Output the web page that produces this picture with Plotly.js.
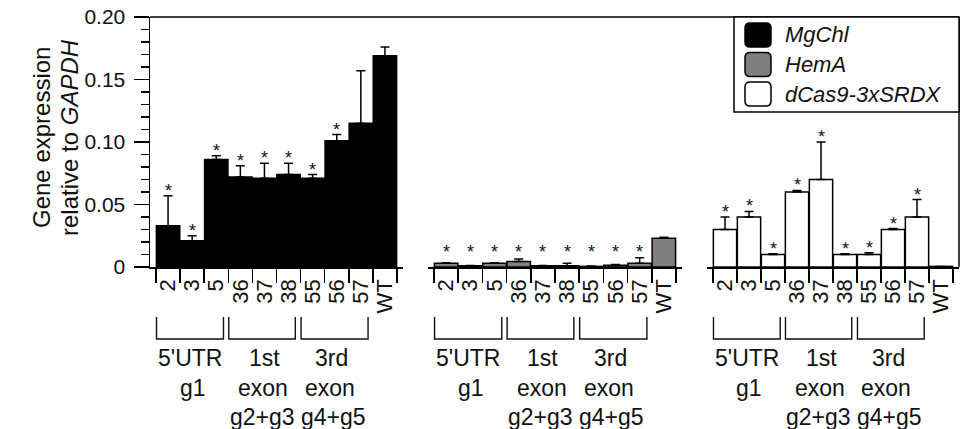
<!DOCTYPE html>
<html>
<head>
<meta charset="utf-8">
<script src="https://cdn.plot.ly/plotly-3.0.1.min.js"></script>
<style>
  html, body { margin: 0; padding: 0; background: #fff; }
  #chart { width: 961px; height: 429px; }
</style>
</head>
<body>
<div id="chart"></div>
<script>
// ---------------- data ----------------
const categories = ['2', '3', '5', '36', '37', '38', '55', '56', '57', 'WT'];

const mgchlValues = [0.033, 0.021, 0.086, 0.072, 0.071, 0.074, 0.071, 0.101, 0.115, 0.169];
const mgchlErrors = [0.024, 0.004, 0.003, 0.009, 0.012, 0.009, 0.003, 0.005, 0.042, 0.007];
const mgchlSignif = [1, 1, 1, 1, 1, 1, 1, 1, 0, 0];

const hemaValues = [0.003, 0.001, 0.003, 0.0045, 0.001, 0.001, 0.0005, 0.0015, 0.003, 0.023];
const hemaErrors = [0.0005, 0.0003, 0.0005, 0.002, 0.0003, 0.002, 0.0003, 0.0005, 0.0045, 0.0008];
const hemaSignif = [1, 1, 1, 1, 1, 1, 1, 1, 1, 0];

const srdxValues = [0.030, 0.040, 0.010, 0.060, 0.070, 0.010, 0.010, 0.030, 0.040, 0.0005];
const srdxErrors = [0.010, 0.0045, 0.0007, 0.0013, 0.030, 0.0007, 0.0015, 0.0008, 0.014, 0];
const srdxSignif = [1, 1, 1, 1, 1, 1, 1, 1, 1, 0];

const seriesNames = ['MgChl', 'HemA', 'dCas9-3xSRDX'];
const yTickVals = [0, 0.05, 0.10, 0.15, 0.20];
const yTickText = ['0', '0.05', '0.10', '0.15', '0.20'];
const yTitleLines = ['Gene expression', 'relative to <i>GAPDH</i>'];

const groupSpans = [[-0.48, 2.3], [2.52, 5.28], [5.52, 8.3]];
const groupLines = [['5\'UTR', 'g1'], ['1st', 'exon', 'g2+g3'], ['3rd', 'exon', 'g4+g5']];
const groupLineX = [[0.92, 1.02], [4.0, 3.95, 3.9], [6.8, 6.72, 6.85]];

// ---------------- layout helpers ----------------
const FONT = 'Liberation Sans, Arial, Helvetica, sans-serif';
const L = 150, T = 17, W = 809, H = 250;
const px = X => (X - L) / W;
const py = Y => (T + H - Y) / H;

const panels = [
  {vals: mgchlValues, errs: mgchlErrors, sig: mgchlSignif, color: '#000000', xa: 'x', dom: [0, 253 / W]},
  {vals: hemaValues, errs: hemaErrors, sig: hemaSignif, color: '#7f7f7f', xa: 'x2', dom: [278 / W, 532 / W]},
  {vals: srdxValues, errs: srdxErrors, sig: srdxSignif, color: '#ffffff', xa: 'x3', dom: [557 / W, 1]}
];

const traces = panels.map((p, i) => ({
  type: 'bar',
  name: seriesNames[i],
  x: categories,
  y: p.vals,
  xaxis: p.xa,
  yaxis: 'y',
  marker: {color: p.color, line: {color: '#000', width: 1.5}},
  error_y: {
    type: 'data', symmetric: false, array: p.errs,
    arrayminus: p.errs.map(() => 0),
    color: '#000', thickness: 1.5, width: 4.5
  },
  showlegend: false,
  hoverinfo: 'x+y'
}));

const annotations = [];
const shapes = [];

panels.forEach((p, pi) => {
  const xref = p.xa;
  // asterisks
  p.vals.forEach((v, i) => {
    if (!p.sig[i]) return;
    annotations.push({
      xref: xref, yref: 'y', x: i, y: Math.max(v + p.errs[i], 0.008),
      text: '*', showarrow: false, yanchor: 'middle', yshift: 5,
      font: {family: FONT, size: 18, color: '#111'}
    });
  });
  // brackets
  groupSpans.forEach(([a, b]) => {
    const y1 = py(317), y2 = py(339);
    shapes.push({
      type: 'path', xref: xref, yref: 'paper',
      path: `M${a},${y1} L${a},${y2} L${b},${y2} L${b},${y1}`,
      line: {color: '#111', width: 1.4}
    });
  });
  // group labels
  const lineY = [358, 388, 417];
  groupLines.forEach((lines, gi) => {
    lines.forEach((t, li) => {
      annotations.push({
        xref: xref, yref: 'paper', x: groupLineX[gi][li], y: py(lineY[li]),
        text: t, showarrow: false, xanchor: 'center', yanchor: 'middle',
        font: {family: FONT, size: 23, color: '#111'}
      });
    });
  });
});

// y-axis title (two rotated lines)
const titleX = [41, 69];
yTitleLines.forEach((t, i) => {
  annotations.push({
    xref: 'paper', yref: 'paper', x: px(titleX[i]), y: py(138),
    text: t, textangle: -90, showarrow: false, xanchor: 'center', yanchor: 'middle',
    font: {family: FONT, size: 24, color: '#111'}
  });
});

// frame lines (top and right)
shapes.push({type: 'line', xref: 'paper', yref: 'paper', x0: 0, x1: 1, y0: 1, y1: 1, line: {color: '#000', width: 1.5}});
shapes.push({type: 'line', xref: 'paper', yref: 'paper', x0: 1, x1: 1, y0: 0, y1: 1, line: {color: '#000', width: 1.5}});

// legend box
shapes.push({type: 'rect', xref: 'paper', yref: 'paper', x0: px(734), x1: 1, y0: py(112), y1: 1,
  line: {color: '#000', width: 1.5}, fillcolor: '#fff', layer: 'above'});

function roundRect(X0, Y0, X1, Y1, r) {
  const rx = r / W, ry = r / H;
  const x0 = px(X0), x1 = px(X1), yt = py(Y0), yb = py(Y1);
  return `M${x0 + rx},${yt} L${x1 - rx},${yt} Q${x1},${yt} ${x1},${yt - ry} L${x1},${yb + ry} Q${x1},${yb} ${x1 - rx},${yb} L${x0 + rx},${yb} Q${x0},${yb} ${x0},${yb + ry} L${x0},${yt - ry} Q${x0},${yt} ${x0 + rx},${yt} Z`;
}
const legendRows = [35, 64.5, 94];
panels.forEach((p, i) => {
  const yc = legendRows[i];
  shapes.push({type: 'path', xref: 'paper', yref: 'paper', layer: 'above',
    path: roundRect(745, yc - 12, 771, yc + 12, 5),
    fillcolor: p.color, line: {color: '#000', width: 1.5}});
  annotations.push({xref: 'paper', yref: 'paper', x: px(783), y: py(yc), xanchor: 'left', yanchor: 'middle',
    text: '<i>' + seriesNames[i] + '</i>', showarrow: false,
    font: {family: FONT, size: 22, color: '#111'}});
});

const xAxisBase = {
  type: 'category', range: [-0.75, 9.75], anchor: 'y',
  tickmode: 'linear', tick0: 0, dtick: 1,
  showline: true, linecolor: '#000', linewidth: 1.5,
  ticks: 'outside', ticklen: 14, tickwidth: 1.5, tickcolor: '#000',
  tickson: 'boundaries', tickangle: -90, ticklabelstandoff: 2,
  tickfont: {family: FONT, size: 22, color: '#111'},
  showgrid: false, zeroline: false, fixedrange: true
};

const layout = {
  width: 961, height: 429,
  margin: {l: L, r: 961 - L - W, t: T, b: 429 - T - H, pad: 0},
  paper_bgcolor: '#fff', plot_bgcolor: '#fff',
  bargap: 0.03,
  showlegend: false,
  font: {family: FONT, color: '#111'},
  xaxis: Object.assign({}, xAxisBase, {domain: panels[0].dom}),
  xaxis2: Object.assign({}, xAxisBase, {domain: panels[1].dom}),
  xaxis3: Object.assign({}, xAxisBase, {domain: panels[2].dom}),
  yaxis: {
    range: [0, 0.2], anchor: 'x', domain: [0, 1],
    showline: true, linecolor: '#000', linewidth: 1.5,
    tickvals: yTickVals, ticktext: yTickText,
    ticks: 'outside', ticklen: 15, tickwidth: 1.5, tickcolor: '#000',
    minor: {dtick: 0.01, ticks: 'outside', ticklen: 8, tickwidth: 1.5, tickcolor: '#000', showgrid: false},
    ticklabelstandoff: 4,
    tickfont: {family: FONT, size: 21, color: '#111'},
    showgrid: false, zeroline: false, fixedrange: true
  },
  shapes: shapes,
  annotations: annotations
};

Plotly.newPlot('chart', traces, layout, {staticPlot: true, displayModeBar: false});
</script>
</body>
</html>
